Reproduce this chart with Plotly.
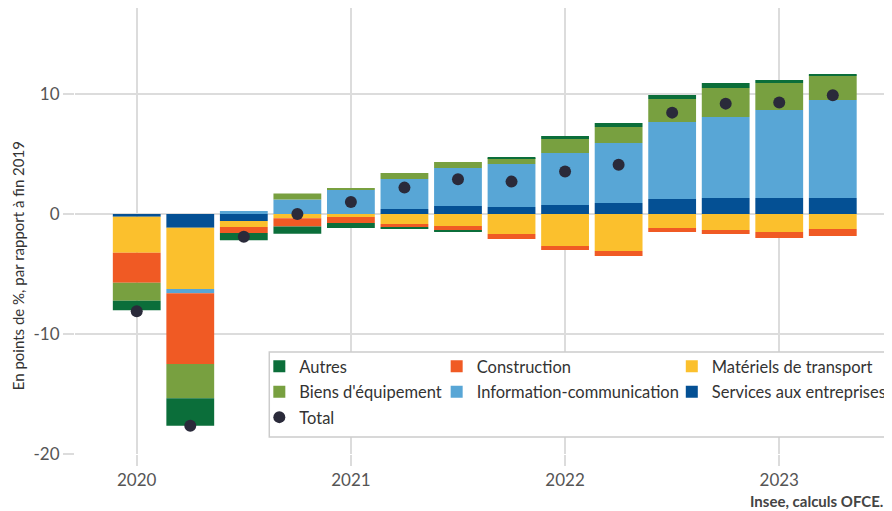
import plotly.graph_objects as go

trimestres = ["2020T1", "2020T2", "2020T3", "2020T4",
              "2021T1", "2021T2", "2021T3", "2021T4",
              "2022T1", "2022T2", "2022T3", "2022T4",
              "2023T1", "2023T2"]
annees_ticks = ["2020T1", "2021T1", "2022T1", "2023T1"]
annees_labels = ["2020", "2021", "2022", "2023"]
y_ticks = [-20, -10, 0, 10]
y_tick_labels = ["-20", "-10", "0", "10"]

autres = [-0.8, -2.3, -0.6, -0.6, -0.42, -0.17, -0.08, 0.08, 0.25, 0.33, 0.33, 0.42, 0.25, 0.1]
construction = [-2.5, -5.9, -0.5, -0.7, -0.5, -0.25, -0.4, -0.42, -0.33, -0.42, -0.33, -0.33, -0.5, -0.58]
transport = [-3.0, -5.1, -0.5, -0.35, -0.25, -0.83, -1.0, -1.67, -2.67, -3.08, -1.17, -1.33, -1.5, -1.25]
biens = [-1.5, -2.85, 0.0, 0.5, 0.17, 0.5, 0.5, 0.5, 1.17, 1.33, 1.92, 2.42, 2.25, 2.05]
info = [0.0, -0.35, 0.25, 1.2, 2.0, 2.5, 3.17, 3.58, 4.33, 5.0, 6.42, 6.75, 7.33, 8.17]
services = [-0.22, -1.15, -0.58, 0.0, 0.0, 0.42, 0.67, 0.58, 0.75, 0.92, 1.25, 1.33, 1.33, 1.33]
total = [-8.1, -17.65, -1.9, 0.0, 1.0, 2.2, 2.9, 2.7, 3.55, 4.1, 8.45, 9.2, 9.3, 9.9]

# (name, values, color, legend, rank) in stacking order (closest to zero first)
series = [
    ("Services aux entreprises", services, "#045094", "legend3", 2),
    ("Matériels de transport", transport, "#fbc02d", "legend3", 1),
    ("Information-communication", info, "#58a6d6", "legend2", 2),
    ("Construction", construction, "#f05a24", "legend2", 1),
    ("Biens d'équipement", biens, "#78a040", "legend", 2),
    ("Autres", autres, "#0b6e3a", "legend", 1),
]

FONT = "Lato"
fig = go.Figure()
for name, vals, col, leg, rank in series:
    fig.add_trace(go.Bar(
        x=trimestres, y=vals, name=name, marker=dict(color=col, line=dict(width=0)),
        legend=leg, legendgroup=name, legendrank=rank,
    ))
fig.add_trace(go.Scatter(
    x=trimestres, y=total, name="Total", mode="markers",
    marker=dict(color="#2a2a3a", size=12),
    legend="legend", legendgroup="Total", legendrank=3,
))

# page body has an 8px margin: figure is placed at (8, 8) in the window
OFF = 8
W, H = 892 - OFF, 511 - OFF
PL, PR, PT, PB = 75, 892, 8, 454  # plot area in window pixels

def px_x(p):
    return (p - PL) / (PR - PL)

def px_y(p):
    return (PB - p) / (PB - PT)

legfont = dict(family=FONT, size=16.5, color="#333333")
legcommon = dict(xanchor="left", yanchor="top", bgcolor="rgba(0,0,0,0)",
                 traceorder="grouped", tracegroupgap=1, font=legfont,
                 orientation="v", borderwidth=0)
LEG_TOP = 349

tickfont = dict(family=FONT, size=17, color="#555555")

fig.update_layout(
    width=W, height=H,
    margin=dict(l=PL - OFF, r=892 - PR, t=PT - OFF, b=511 - PB),
    paper_bgcolor="white", plot_bgcolor="white",
    barmode="relative", bargap=0.107,
    font=dict(family=FONT, size=14, color="#555555"),
    legend=dict(x=px_x(260), y=px_y(LEG_TOP), **legcommon),
    legend2=dict(x=px_x(438), y=px_y(LEG_TOP), **legcommon),
    legend3=dict(x=px_x(674), y=px_y(LEG_TOP), **legcommon),
    xaxis=dict(
        type="category", categoryorder="array", categoryarray=trimestres,
        range=[-1.153, 14.05],
        tickmode="array", tickvals=annees_ticks, ticktext=annees_labels,
        showgrid=True, gridcolor="#dcdcdc", gridwidth=2,
        ticks="outside", ticklen=11, tickcolor="#dcdcdc", tickwidth=2,
        showline=False, zeroline=False, tickfont=tickfont,
    ),
    yaxis=dict(
        range=[-20, 17.17], tickmode="array", tickvals=y_ticks, ticktext=y_tick_labels,
        showgrid=True, gridcolor="#dcdcdc", gridwidth=1.5,
        ticks="outside", ticklen=11, tickcolor="#dcdcdc", tickwidth=1.5,
        showline=False, zeroline=False, tickfont=tickfont,
    ),
    shapes=[dict(
        type="rect", xref="paper", yref="paper", layer="above",
        x0=px_x(270), x1=px_x(893), y0=px_y(437), y1=px_y(352),
        fillcolor="white", line=dict(color="#cccccc", width=1.5),
    )],
    annotations=[
        dict(text="En points de %, par rapport à fin 2019", textangle=-90,
             xref="paper", yref="paper", x=px_x(18), y=px_y(266),
             xanchor="center", yanchor="middle", showarrow=False,
             font=dict(family=FONT, size=15, color="#333333")),
        dict(text="<b>Insee, calculs OFCE.</b>",
             xref="paper", yref="paper", x=px_x(888), y=px_y(501),
             xanchor="right", yanchor="middle", showarrow=False,
             font=dict(family=FONT, size=15, color="#444444")),
    ],
)

fig.write_html("out.html")
